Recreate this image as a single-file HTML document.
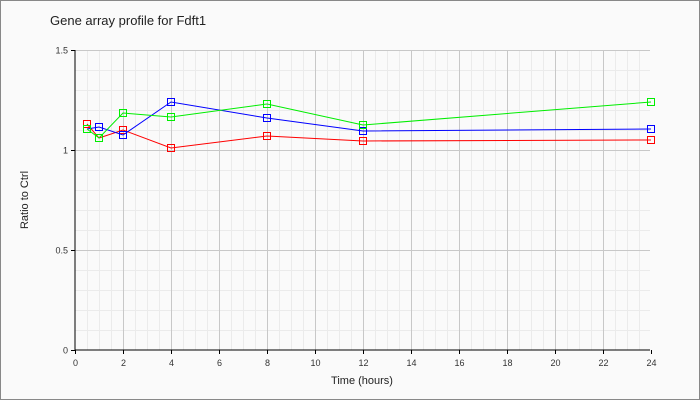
<!DOCTYPE html>
<html><head><style>body{margin:0}svg{display:block;font-family:"Liberation Sans",sans-serif}</style></head>
<body>
<svg width="700" height="400" xmlns="http://www.w3.org/2000/svg">
<rect x="0.5" y="0.5" width="699" height="399" fill="#fafafa" stroke="#888"/>
<text x="50" y="25" font-size="13" fill="#222">Gene array profile for Fdft1</text>
<rect x="75" y="50" width="575" height="300" fill="#fafafa"/>
<g id="minor" stroke="#ebebeb" stroke-width="1"></g>
<g id="major" stroke="#c8c8c8" stroke-width="1"></g>
<line x1="75" y1="50" x2="75" y2="350" stroke="#000"/>
<line x1="75" y1="350" x2="650" y2="350" stroke="#000"/>
<g id="ticks" stroke="#000"></g>
<g id="labels" font-size="9" fill="#333"></g>
<text x="362" y="384" font-size="11" text-anchor="middle" fill="#222">Time (hours)</text>
<text transform="translate(28,200) rotate(-90)" font-size="11" text-anchor="middle" fill="#222">Ratio to Ctrl</text>
<g id="series" fill="none" stroke-width="1"></g>
<script>
var ns="http://www.w3.org/2000/svg";
function el(p,t,a,txt){var e=document.createElementNS(ns,t);for(var k in a)e.setAttribute(k,a[k]);if(txt!=null)e.textContent=txt;document.getElementById(p).appendChild(e);}
function X(h){return 74.5+h*24;}
function Y(v){return 350-v*200;}
for(var h=0.5;h<24;h+=0.5){var x=Math.round(X(h))+0.5;if(h%2)el('minor','line',{x1:x,y1:50,x2:x,y2:350});else el('major','line',{x1:x,y1:50,x2:x,y2:350});}
for(var i=1;i<=15;i++){var y=Y(i/10)+0.5;if(i%5)el('minor','line',{x1:75,y1:y,x2:650,y2:y});else el('major','line',{x1:75,y1:y,x2:650,y2:y});}
for(var h=0;h<=24;h+=2){var x=Math.round(X(h))+0.5;el('ticks','line',{x1:x,y1:350,x2:x,y2:354});el('labels','text',{x:x,y:366,'text-anchor':'middle'},h);}
[0,0.5,1,1.5].forEach(function(v){var y=Y(v)+0.5;el('ticks','line',{x1:71,y1:y,x2:75,y2:y});el('labels','text',{x:68,y:y+3,'text-anchor':'end'},v==0?'0':v);});
var xs=[0.5,1,2,4,8,12,24];
var S=[["#f00",[124,138,130,148,136,141,140]],["#00f",[129,127,135,102,118,131,129]],["#0e0",[129,138,113,117,104,125,102]]];
S.forEach(function(s){var pts=xs.map(function(h,i){return Math.round(X(h))+','+s[1][i];}).join(' ');
el('series','polyline',{points:pts,stroke:s[0]});
xs.forEach(function(h,i){el('series','rect',{x:Math.round(X(h))-3.5,y:s[1][i]-3.5,width:7,height:7,stroke:s[0]});});});
</script>
</svg>
</body></html>
